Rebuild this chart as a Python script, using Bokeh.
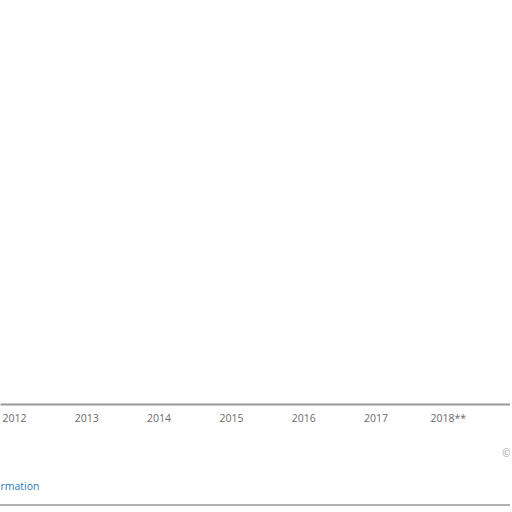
from bokeh.plotting import figure
from bokeh.models import Range1d, FixedTicker, Title
from bokeh.embed import file_html
from bokeh.resources import INLINE

# Data: only the category axis is visible
years = ["2012", "2013", "2014", "2015", "2016", "2017", "2018**", "2019"]
positions = list(range(len(years)))

W, H = 510, 506
frame_bottom = 404          # axis line (px from top)
first_center_px = 14.0      # centre of "2012"
step_px = 72.3              # distance between categories

x_start = -first_center_px / step_px
x_end = x_start + W / step_px

p = figure(width=W, height=H, output_backend="svg", toolbar_location=None,
           x_range=Range1d(x_start, x_end), y_range=Range1d(0, 1),
           min_border_left=0, min_border_right=0, min_border_top=0,
           min_border_bottom=H - frame_bottom)
p.yaxis.visible = False
p.grid.visible = False
p.outline_line_color = None
p.background_fill_color = "white"
p.border_fill_color = "white"

ax = p.xaxis[0]
ax.ticker = FixedTicker(ticks=positions)
ax.major_label_overrides = {i: y for i, y in zip(positions, years)}
ax.major_tick_line_color = None
ax.minor_tick_line_color = None
ax.axis_line_color = "#9a9a9a"
ax.axis_line_width = 2
ax.major_label_standoff = 0
ax.major_label_text_font = "Open Sans"
ax.major_label_text_font_size = "10.5px"
ax.major_label_text_color = "#6a6a6a"

p.add_layout(Title(text="©", align="right", text_font="Open Sans",
                   text_font_size="10px", text_font_style="normal",
                   text_color="#9a9a9a", standoff=33, offset=0), "below")
p.add_layout(Title(text="rmation", align="left", text_font="Open Sans",
                   text_font_size="10.5px", text_font_style="normal",
                   text_color="#2a7ab8", standoff=0, offset=0), "below")

p.styles = {"border-bottom": "2px solid #b0b0b0"}

open("out.html", "w").write(file_html(p, INLINE))
